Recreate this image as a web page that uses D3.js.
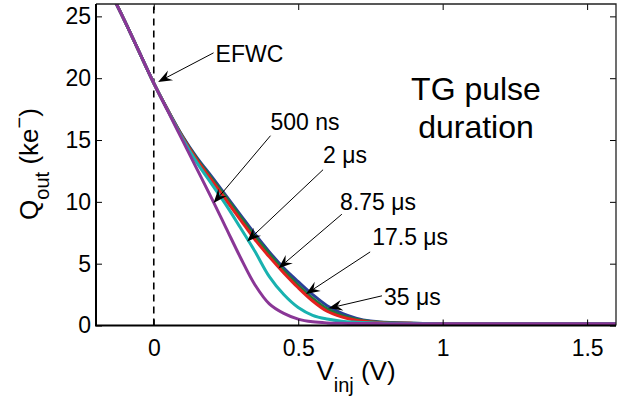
<!DOCTYPE html>
<html>
<head>
<meta charset="utf-8">
<script src="https://cdn.jsdelivr.net/npm/d3@7"></script>
<style>
  html, body { margin: 0; padding: 0; background: #fff; }
  svg { display: block; font-family: "Liberation Sans", Arial, sans-serif; }
</style>
</head>
<body>
<svg id="chart" width="632" height="401"></svg>
<script>
// Injection voltage (V) sample points shared by every curve
const vinj = [-0.2, -0.1, 0, 0.05, 0.1, 0.15, 0.2, 0.25, 0.3, 0.35, 0.4, 0.45, 0.5, 0.55, 0.6, 0.65, 0.7, 0.75, 0.8, 0.9, 1.0, 1.2, 1.4, 1.6];

// Output charge (ke-) for each TG pulse duration
const q35us   = [29.3, 24.6, 19.6, 17.37, 15.3, 13.55, 12.05, 10.5, 8.95, 7.4, 5.95, 4.65, 3.55, 2.5, 1.6, 1.0, 0.6, 0.36, 0.26, 0.18, 0.16, 0.15, 0.15, 0.15];
const q17_5us = [29.3, 24.6, 19.6, 17.36, 15.25, 13.45, 11.9, 10.35, 8.78, 7.2, 5.78, 4.45, 3.25, 2.2, 1.35, 0.82, 0.5, 0.32, 0.24, 0.18, 0.16, 0.15, 0.15, 0.15];
const q8_75us = [29.3, 24.6, 19.6, 17.35, 15.2, 13.35, 11.75, 10.15, 8.55, 6.95, 5.55, 4.25, 3.05, 1.98, 1.15, 0.7, 0.42, 0.28, 0.21, 0.17, 0.16, 0.15, 0.15, 0.15];
const q2us    = [29.3, 24.6, 19.6, 17.32, 15.1, 13.15, 11.45, 9.75, 7.9, 6.0, 3.95, 2.5, 1.45, 0.82, 0.52, 0.35, 0.27, 0.22, 0.19, 0.16, 0.15, 0.15, 0.15, 0.15];
const q500ns  = [29.3, 24.6, 19.6, 17.27, 14.95, 12.63, 10.3, 7.9, 5.5, 3.3, 1.75, 0.98, 0.52, 0.3, 0.21, 0.18, 0.16, 0.16, 0.15, 0.15, 0.15, 0.15, 0.15, 0.15];

const seriesNames  = ["35 µs", "17.5 µs", "8.75 µs", "2 µs", "500 ns"];
const seriesValues = [q35us, q17_5us, q8_75us, q2us, q500ns];
const seriesColors = ["#2b3f98", "#1d7a3c", "#e3201e", "#19b2b0", "#8a3696"];

const xTicks = [0, 0.5, 1, 1.5];
const yTicks = [0, 5, 10, 15, 20, 25];

// Callouts: label text, label anchor, arrow tail and arrow tip (data units)
const calloutText = ["EFWC", "500 ns", "2 μs", "8.75 μs", "17.5 μs", "35 μs"];
const calloutLabel = [[0.214, 21.3], [0.404, 15.8], [0.586, 13.15], [0.645, 9.35], [0.756, 6.5], [0.797, 1.66]];
const calloutTail  = [[0.207, 22.05], [0.404, 15.35], [0.586, 12.6], [0.651, 9.0], [0.749, 5.95], [0.79, 2.4]];
const calloutTip   = [[0.015, 19.7], [0.207, 9.9], [0.323, 6.8], [0.432, 4.63], [0.527, 2.55], [0.605, 1.39]];

const svg = d3.select("#chart");
const m = { left: 96, right: 16, top: 4, bottom: 75.5 };
const W = 632, H = 401;
const x = d3.scaleLinear().domain([-0.2, 1.6]).range([m.left, W - m.right]);
const y = d3.scaleLinear().domain([0, 26]).range([H - m.bottom, m.top]);

svg.append("defs").append("clipPath").attr("id", "plotclip")
  .append("rect")
  .attr("x", x.range()[0]).attr("y", y.range()[1])
  .attr("width", x.range()[1] - x.range()[0])
  .attr("height", y.range()[0] - y.range()[1]);

// Dashed marker at Vinj = 0
svg.append("line")
  .attr("x1", x(0)).attr("x2", x(0))
  .attr("y1", y(0)).attr("y2", y(26))
  .attr("stroke", "#000").attr("stroke-width", 1.6)
  .attr("stroke-dasharray", "7,5");

// Curves
const line = d3.line().x((d, i) => x(vinj[i])).y(d => y(d)).curve(d3.curveCatmullRom.alpha(0.5));
const plot = svg.append("g").attr("clip-path", "url(#plotclip)");
seriesValues.forEach((vals, k) => {
  plot.append("path")
    .datum(vals)
    .attr("d", line)
    .attr("fill", "none")
    .attr("stroke", seriesColors[k])
    .attr("stroke-width", 3)
    .attr("stroke-linejoin", "round");
});

// Axes (ticks pointing inward) with box
const fs = 23;
const xAxis = d3.axisBottom(x).tickValues(xTicks).tickSize(-6).tickPadding(14).tickFormat(d3.format("~g"));
const yAxis = d3.axisLeft(y).tickValues(yTicks).tickSize(-6).tickPadding(5).tickFormat(d3.format("~g"));
const gx = svg.append("g").attr("transform", `translate(0,${y(0)})`).call(xAxis);
const gy = svg.append("g").attr("transform", `translate(${x(-0.2)},0)`).call(yAxis);
[gx, gy].forEach(g => {
  g.select(".domain").remove();
  g.selectAll(".tick line").attr("stroke", "#000").attr("stroke-width", 1);
  g.selectAll(".tick text").attr("font-size", fs).attr("fill", "#000")
    .attr("font-family", "Liberation Sans, Arial, sans-serif");
});
// top / right ticks
svg.append("g").attr("transform", `translate(0,${y(26)})`)
  .call(d3.axisTop(x).tickValues(xTicks).tickSize(-6).tickFormat(""))
  .call(g => { g.select(".domain").remove(); g.selectAll("line").attr("stroke", "#000"); });
svg.append("g").attr("transform", `translate(${x(1.6)},0)`)
  .call(d3.axisRight(y).tickValues(yTicks).tickSize(-6).tickFormat(""))
  .call(g => { g.select(".domain").remove(); g.selectAll("line").attr("stroke", "#000"); });

// Frame
svg.append("path")
  .attr("d", `M${x(-0.2)},${y(26)}H${x(1.6)}V${y(0)}`)
  .attr("fill", "none").attr("stroke", "#222").attr("stroke-width", 1.3);
svg.append("path")
  .attr("d", `M${x(-0.2)},${y(26)}V${y(0)}H${x(1.6)}`)
  .attr("fill", "none").attr("stroke", "#000").attr("stroke-width", 2);

// Callout arrows and labels
const ann = svg.append("g");
calloutText.forEach((t, i) => {
  const [tx, ty] = [x(calloutTail[i][0]), y(calloutTail[i][1])];
  const [hx, hy] = [x(calloutTip[i][0]), y(calloutTip[i][1])];
  const ang = Math.atan2(hy - ty, hx - tx);
  const L = 14, Wd = 5.5, back = 9;
  const ux = Math.cos(ang), uy = Math.sin(ang);
  const px = -uy, py = ux;
  const bx = hx - ux * L, by = hy - uy * L;
  const nx = hx - ux * back, ny = hy - uy * back;
  ann.append("line")
    .attr("x1", tx).attr("y1", ty).attr("x2", nx).attr("y2", ny)
    .attr("stroke", "#000").attr("stroke-width", 1);
  ann.append("path")
    .attr("d", `M${hx},${hy}L${bx + px * Wd},${by + py * Wd}L${nx},${ny}L${bx - px * Wd},${by - py * Wd}Z`)
    .attr("fill", "#000");
  ann.append("text")
    .attr("x", x(calloutLabel[i][0])).attr("y", y(calloutLabel[i][1]))
    .attr("font-size", fs).attr("fill", "#000")
    .text(t);
});

// Panel title
const title = svg.append("text")
  .attr("x", 476).attr("text-anchor", "middle")
  .attr("font-size", 32).attr("fill", "#000");
title.append("tspan").attr("x", 476).attr("y", 100).text("TG pulse");
title.append("tspan").attr("x", 476).attr("y", 138).text("duration");

// Axis labels
const xl = svg.append("text")
  .attr("x", 356).attr("y", 380).attr("text-anchor", "middle")
  .attr("font-size", 26).attr("fill", "#000");
xl.append("tspan").text("V");
xl.append("tspan").attr("font-size", 20).attr("dy", 12).text("inj");
xl.append("tspan").attr("dy", -12).text(" (V)");

const yl = svg.append("text")
  .attr("transform", `translate(38,${164}) rotate(-90)`)
  .attr("text-anchor", "middle")
  .attr("font-size", 26).attr("fill", "#000");
yl.append("tspan").text("Q");
yl.append("tspan").attr("font-size", 20).attr("dy", 11).text("out");
yl.append("tspan").attr("dy", -11).text(" (ke");
yl.append("tspan").attr("font-size", 20).attr("dy", -12).text("−");
yl.append("tspan").attr("dy", 12).text(")");
</script>
</body>
</html>
